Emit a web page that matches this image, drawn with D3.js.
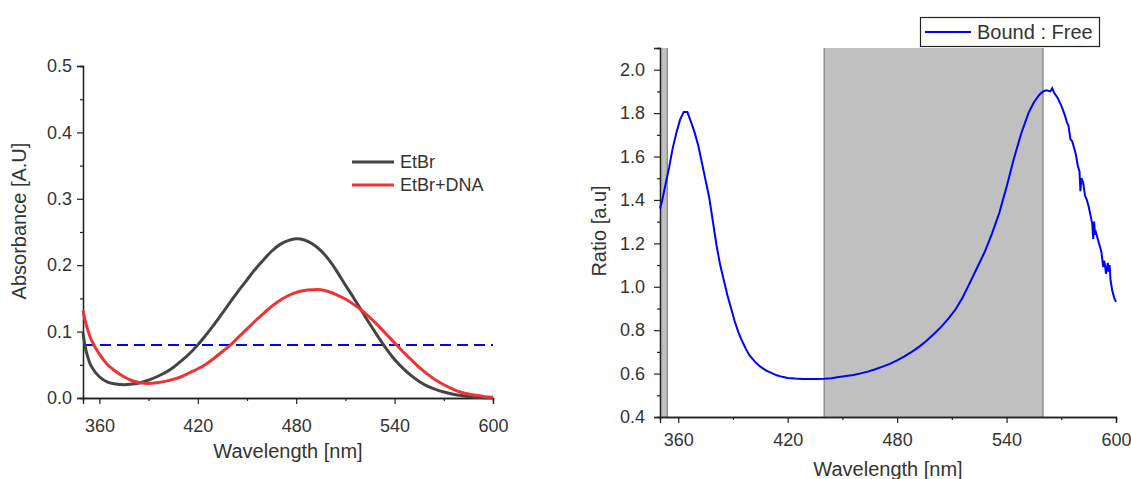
<!DOCTYPE html>
<html><head><meta charset="utf-8">
<script src="https://cdn.jsdelivr.net/npm/d3@7"></script>
<style>
body{margin:0;background:#fff;}
svg{display:block;font-family:"Liberation Sans",Arial,sans-serif;}
</style></head>
<body><svg id="c" width="1131" height="479"></svg>
<script>
// ---- Left panel data (absorbance) ----
const wl = [350,352,355,360,365,370,375,380,385,390,395,400,405,410,415,420,425,430,435,440,445,450,455,460,465,470,475,480,485,490,495,500,505,510,515,520,525,530,535,540,545,550,555,560,565,570,575,580,585,590,595,600];
const etbr = [0.098,0.070,0.048,0.032,0.024,0.021,0.020,0.021,0.023,0.027,0.032,0.038,0.046,0.056,0.067,0.080,0.095,0.111,0.128,0.145,0.162,0.178,0.194,0.208,0.221,0.231,0.237,0.240,0.238,0.232,0.222,0.208,0.190,0.170,0.151,0.131,0.111,0.092,0.074,0.058,0.045,0.034,0.025,0.018,0.013,0.009,0.006,0.004,0.002,0.001,0.0005,0.0];
const etbrDna = [0.132,0.110,0.088,0.066,0.050,0.040,0.032,0.026,0.023,0.022,0.023,0.025,0.028,0.032,0.038,0.044,0.051,0.060,0.070,0.080,0.092,0.104,0.116,0.127,0.138,0.147,0.154,0.159,0.162,0.163,0.163,0.160,0.155,0.149,0.141,0.132,0.121,0.109,0.096,0.083,0.070,0.058,0.046,0.036,0.027,0.020,0.014,0.009,0.006,0.004,0.002,0.001];
const thresholdLevel = 0.08;
const leftXTicks = [360,420,480,540,600];
const leftYTicks = [0.0,0.1,0.2,0.3,0.4,0.5];
const leftLegend = ["EtBr","EtBr+DNA"];

// ---- Right panel data (ratio) ----
const rwl = [350,351,353,355,357,359,361,363,365,367,369,371,373,375,377,379,381,383,385,387,389,391,393,395,397,399,402,405,408,411,414,417,420,424,428,432,436,440,444,448,452,456,460,464,468,472,476,480,484,488,492,496,500,504,508,512,516,520,524,528,532,536,540,544,548,552,555,558,560,562,564,565,566,568,570,572,573,574,575,576,577,578,579,580,580.5,581,582,583,584,585,586,587,587.5,588,588.5,589,590,591,592,593,593.5,594,594.5,595,595.5,596,596.5,597,598,599,600];
const ratio = [1.36,1.39,1.47,1.55,1.64,1.71,1.77,1.805,1.805,1.76,1.71,1.65,1.57,1.49,1.41,1.30,1.19,1.10,1.03,0.96,0.90,0.84,0.79,0.75,0.715,0.685,0.655,0.632,0.615,0.603,0.592,0.585,0.580,0.577,0.575,0.575,0.575,0.576,0.579,0.584,0.589,0.594,0.601,0.609,0.620,0.632,0.645,0.661,0.679,0.700,0.723,0.750,0.781,0.814,0.852,0.895,0.952,1.020,1.090,1.160,1.245,1.340,1.460,1.590,1.705,1.800,1.850,1.885,1.900,1.905,1.900,1.915,1.895,1.870,1.835,1.790,1.760,1.740,1.680,1.670,1.640,1.610,1.560,1.530,1.44,1.50,1.48,1.42,1.40,1.37,1.33,1.29,1.22,1.30,1.24,1.25,1.22,1.19,1.16,1.09,1.12,1.10,1.06,1.08,1.11,1.07,1.10,1.03,0.98,0.95,0.93];
const bands = [[350,354],[440,560]];
const rightXTicks = [360,420,480,540,600];
const rightYTicks = [0.4,0.6,0.8,1.0,1.2,1.4,1.6,1.8,2.0];
const rightLegend = ["Bound : Free"];

const svg = d3.select("#c");
const axisCol = "#222", textCol = "#333";

function styleAxis(g){
  g.selectAll(".domain").attr("stroke",axisCol).attr("stroke-width",1.3);
  g.selectAll(".tick line").attr("stroke",axisCol).attr("stroke-width",1.2);
  g.selectAll(".tick text").attr("fill",textCol).style("font-size","18px").style("font-family","'Liberation Sans',Arial,sans-serif");
}

// ===== Left panel =====
{
  const x = d3.scaleLinear().domain([350,600]).range([83,493]);
  const y = d3.scaleLinear().domain([0,0.5]).range([398,66]);
  svg.append("g").attr("transform","translate(0,398)")
    .call(d3.axisBottom(x).tickValues([390,450,510,570]).tickSize(3).tickFormat(""))
    .call(styleAxis);
  svg.append("g").attr("transform","translate(83,0)")
    .call(d3.axisLeft(y).tickValues([0.05,0.15,0.25,0.35,0.45]).tickSize(3).tickFormat(""))
    .call(styleAxis);
  svg.append("g").attr("transform","translate(0,398)")
    .call(d3.axisBottom(x).tickValues(leftXTicks).tickSize(6).tickPadding(15).tickFormat(d3.format("d")))
    .call(styleAxis);
  svg.append("g").attr("transform","translate(83,0)")
    .call(d3.axisLeft(y).tickValues(leftYTicks).tickSize(6).tickPadding(5).tickFormat(d3.format(".1f")))
    .call(styleAxis);

  svg.append("line").attr("x1",x(350)).attr("x2",x(600)).attr("y1",y(thresholdLevel)).attr("y2",y(thresholdLevel))
    .attr("stroke","#0000ff").attr("stroke-width",2).attr("stroke-dasharray","11,6");

  const line = (arr)=>d3.line().x((d,i)=>x(wl[i])).y((d,i)=>y(arr[i])).curve(d3.curveCatmullRom)(arr);
  svg.append("path").attr("d",line(etbr)).attr("fill","none").attr("stroke","#444").attr("stroke-width",3);
  svg.append("path").attr("d",line(etbrDna)).attr("fill","none").attr("stroke","#ee3333").attr("stroke-width",3);

  const cols = ["#444","#ee3333"];
  leftLegend.forEach((t,i)=>{
    const yy = 162 + i*23;
    svg.append("line").attr("x1",352).attr("x2",394).attr("y1",yy).attr("y2",yy).attr("stroke",cols[i]).attr("stroke-width",3);
    svg.append("text").attr("x",400).attr("y",yy).attr("dy","0.35em").attr("fill",textCol).style("font-size","18px").text(t);
  });

  svg.append("text").attr("x",288).attr("y",458).attr("text-anchor","middle").attr("fill",textCol).style("font-size","20px").text("Wavelength [nm]");
  svg.append("text").attr("transform","translate(26,221) rotate(-90)").attr("text-anchor","middle").attr("fill",textCol).style("font-size","20px").text("Absorbance [A.U]");
}

// ===== Right panel =====
{
  const x = d3.scaleLinear().domain([350,600]).range([660,1116]);
  const y = d3.scaleLinear().domain([0.4,2.1]).range([417,48]);
  bands.forEach(b=>{
    svg.append("rect").attr("x",x(b[0])).attr("y",y(2.1)).attr("width",x(b[1])-x(b[0])).attr("height",y(0.4)-y(2.1))
      .attr("fill","#c0c0c0");
    [b[0],b[1]].forEach(v=>{ if(v>350) svg.append("line").attr("x1",x(v)).attr("x2",x(v)).attr("y1",y(2.1)).attr("y2",y(0.4)).attr("stroke","#888").attr("stroke-width",1.3); });
  });
  svg.append("g").attr("transform","translate(0,417)")
    .call(d3.axisBottom(x).tickValues([390,450,510,570]).tickSize(3).tickFormat(""))
    .call(styleAxis);
  svg.append("g").attr("transform","translate(660,0)")
    .call(d3.axisLeft(y).tickValues([0.5,0.7,0.9,1.1,1.3,1.5,1.7,1.9]).tickSize(3).tickFormat(""))
    .call(styleAxis);
  svg.append("g").attr("transform","translate(0,417)")
    .call(d3.axisBottom(x).tickValues(rightXTicks).tickSize(6).tickPadding(10).tickFormat(d3.format("d")))
    .call(styleAxis);
  svg.append("g").attr("transform","translate(660,0)")
    .call(d3.axisLeft(y).tickValues(rightYTicks).tickSize(6).tickPadding(9).tickFormat(d3.format(".1f")))
    .call(styleAxis);

  const line = d3.line().x((d,i)=>x(rwl[i])).y((d,i)=>y(ratio[i]));
  svg.append("path").attr("d",line(ratio)).attr("fill","none").attr("stroke","#0000ff").attr("stroke-width",2);

  svg.append("rect").attr("x",920.5).attr("y",17.5).attr("width",179).attr("height",29).attr("fill","#fff").attr("stroke","#222").attr("stroke-width",1.2);
  svg.append("line").attr("x1",925).attr("x2",971).attr("y1",32).attr("y2",32).attr("stroke","#0000ff").attr("stroke-width",2);
  svg.append("text").attr("x",977).attr("y",32).attr("dy","0.35em").attr("fill",textCol).style("font-size","20px").text(rightLegend[0]);

  svg.append("text").attr("x",888).attr("y",476).attr("text-anchor","middle").attr("fill",textCol).style("font-size","20px").text("Wavelength [nm]");
  svg.append("text").attr("transform","translate(606,231) rotate(-90)").attr("text-anchor","middle").attr("fill",textCol).style("font-size","20px").text("Ratio [a.u]");
}
</script></body></html>
